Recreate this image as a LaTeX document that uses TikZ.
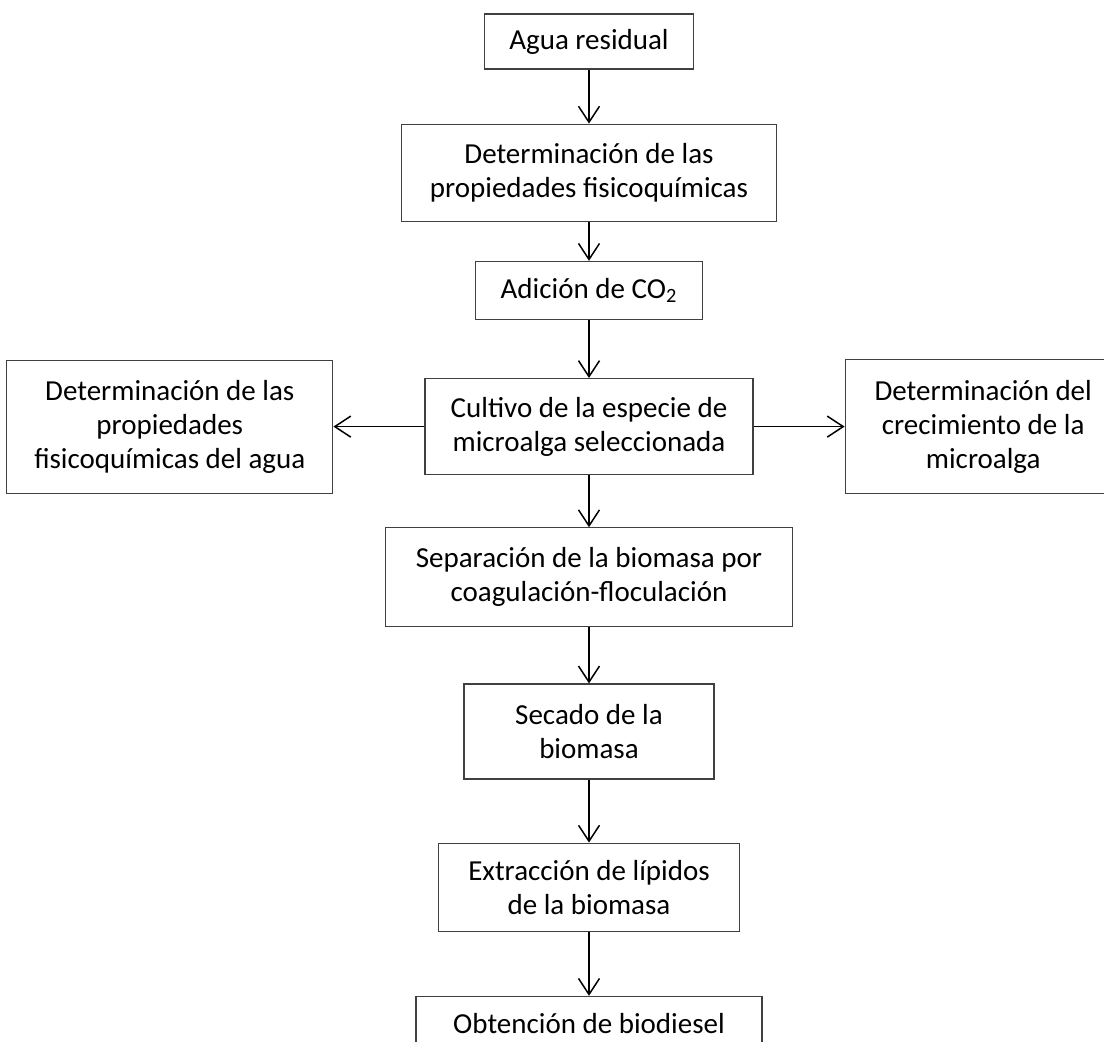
\documentclass[tikz,border=0pt]{standalone}
\usepackage{fontspec}
\setmainfont{Carlito}
\usetikzlibrary{arrows.meta,positioning}

\begin{document}
\begin{tikzpicture}[x=0.5pt,y=-0.5pt]
 		\tikzstyle{stage}=[rectangle, draw=black!75, line width=0.6pt, align=center, inner sep=0pt, font=\fontsize{14.5}{17}\selectfont]
 		\tikzstyle{connect}=[-{Straight Barb[length=8pt,width=10.5pt]}, line width=0.75pt]
 		\useasboundingbox (0,0) rectangle (1104,1041);
 		\clip (0,0) rectangle (1104,1041);
 		\node[stage, minimum width=104.5pt, minimum height=27.5pt] (agua) at (589,41.5) {Agua residual};
 		\node[stage, minimum width=187.5pt, minimum height=48.5pt] (det) [below=27pt of agua] {Determinación de las\\propiedades fisicoquímicas};
 		\node[stage, minimum width=113.5pt, minimum height=29pt] (adic) [below=19.5pt of det] {Adición de CO\textsubscript{2}};
 		\node[stage, minimum width=164pt, minimum height=48pt] (cult) [below=29pt of adic] {Cultivo de la especie de\\microalga seleccionada};
 		\node[stage, minimum width=163pt, minimum height=66.5pt] (agua2) [left=45.5pt of cult] {Determinación de las\\propiedades\\fisicoquímicas del agua};
 		\node[stage, minimum width=138pt, minimum height=67pt] (crec) [right=45.5pt of cult] {Determinación del\\crecimiento de la\\microalga};
 		\node[stage, minimum width=203.5pt, minimum height=49.5pt] (sep) [below=26pt of cult] {Separación de la biomasa por\\coagulación-floculación};
 		\node[stage, minimum width=125pt, minimum height=47.5pt] (seca) [below=28pt of sep] {Secado de la\\biomasa};
 		\node[stage, minimum width=150.5pt, minimum height=44pt] (extr) [below=31.5pt of seca] {Extracción de lípidos\\de la biomasa};
 		\node[stage, minimum width=173pt, minimum height=27pt] (biod) [below=32pt of extr] {Obtención de biodiesel};
 		\path (agua) edge [connect] (det)
 		(det) edge [connect] (adic)
 		(adic) edge [connect] (cult)
 		(cult) edge [connect] (agua2)
 		(cult) edge [connect] (crec)
 		(cult) edge [connect] (sep)
 		(sep) edge [connect] (seca)
 		(seca) edge [connect] (extr)
 		(extr) edge [connect] (biod);
\end{tikzpicture}
\end{document}
